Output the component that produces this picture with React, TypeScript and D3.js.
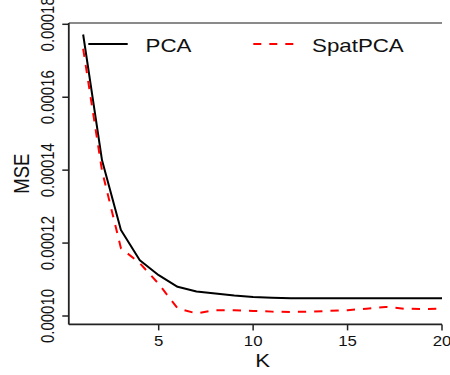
import React from 'react';
import * as d3 from 'd3';

const kValues = [1, 2, 3, 4, 5, 6, 7, 8, 9, 10, 11, 12, 13, 14, 15, 16, 17, 18, 19, 20];
const pcaMSE = [
  0.0001772, 0.0001427, 0.0001236, 0.0001153, 0.0001112, 0.000108, 0.0001067, 0.0001062,
  0.0001056, 0.0001052, 0.000105, 0.0001049, 0.00010485, 0.00010485, 0.00010485, 0.00010485,
  0.00010485, 0.00010485, 0.00010485, 0.00010485,
];
const spatMSE = [
  0.0001733, 0.0001398, 0.0001186, 0.0001145, 0.0001088, 0.0001021, 0.0001007, 0.0001016,
  0.0001016, 0.0001014, 0.0001012, 0.0001011, 0.0001012, 0.0001014, 0.0001016, 0.000102,
  0.0001025, 0.000102, 0.0001019, 0.000102,
];
const yTicks = [0.0001, 0.00012, 0.00014, 0.00016, 0.00018];
const yTickLabels = ['0.00010', '0.00012', '0.00014', '0.00016', '0.00018'];
const xTicks = [5, 10, 15, 20];
const seriesNames = ['PCA', 'SpatPCA'];

const FONT = '"Liberation Sans", Arial, Helvetica, sans-serif';
const SX = 1.2;

export default function App() {
  const x = d3.scaleLinear().domain([1, 20]).range([83.15, 442]);
  const y = d3.scaleLinear().domain([0.0001, 0.00018]).range([316, 24.3]);
  const left = x(0.24);
  const right = x(20);
  const bottom = y(0.0000977);
  const top = 23;

  const line = d3
    .line<number>()
    .x((_, i) => x(kValues[i]))
    .y((d) => y(d));

  return (
    <svg
      width={450}
      height={375}
      style={{ position: 'fixed', left: 0, top: 0, background: '#fff' }}
      fontFamily={FONT}
    >
      <rect x={0} y={0} width={450} height={375} fill="#fff" />
      {/* top border (gray) */}
      <line x1={left} x2={right} y1={top} y2={top} stroke="#8a8a8a" strokeWidth={2} />
      {/* axes */}
      <line x1={left} x2={left} y1={top} y2={bottom} stroke="#222" strokeWidth={1.8} />
      <line x1={left} x2={right} y1={bottom} y2={bottom} stroke="#222" strokeWidth={1.8} />

      {yTicks.map((t, i) => (
        <g key={'yt' + i}>
          <line x1={left - 6.5} x2={left} y1={y(t)} y2={y(t)} stroke="#222" strokeWidth={1.5} />
          <text
            transform={`translate(53.5,${y(t)}) scale(${SX},1) rotate(-90)`}
            textAnchor="middle"
            fontSize={15}
            fill="#111"
          >
            {yTickLabels[i]}
          </text>
        </g>
      ))}
      {xTicks.map((t, i) => (
        <g key={'xt' + i}>
          <line x1={x(t)} x2={x(t)} y1={bottom} y2={bottom + 6} stroke="#222" strokeWidth={1.5} />
          <text
            transform={`translate(${x(t)},345.5) scale(${SX},1)`}
            textAnchor="middle"
            fontSize={14}
            fill="#111"
          >
            {String(t)}
          </text>
        </g>
      ))}

      <text
        transform={`translate(${(left + 456.5) / 2},366.5) scale(${SX},1)`}
        textAnchor="middle"
        fontSize={18.5}
        fill="#111"
      >
        K
      </text>
      <text
        transform={`translate(28.5,${(top + bottom) / 2}) scale(${SX},1) rotate(-90)`}
        textAnchor="middle"
        fontSize={18.5}
        fill="#111"
      >
        MSE
      </text>

      <path d={line(pcaMSE) || ''} fill="none" stroke="#000" strokeWidth={2} strokeLinejoin="round" />
      <path
        d={line(spatMSE) || ''}
        fill="none"
        stroke="#ff0000"
        strokeWidth={2}
        strokeDasharray="8.3,8"
      />

      {/* legend */}
      <line x1={88.3} x2={127.7} y1={44} y2={44} stroke="#000" strokeWidth={2} />
      <text transform={`translate(145.6,51.5) scale(${SX},1)`} fontSize={18.6} fill="#111">
        {seriesNames[0]}
      </text>
      <line x1={253.3} x2={293.3} y1={44} y2={44} stroke="#ff0000" strokeWidth={2} strokeDasharray="8,8" />
      <text transform={`translate(312,51.5) scale(${SX},1)`} fontSize={18.6} fill="#111">
        {seriesNames[1]}
      </text>
    </svg>
  );
}
